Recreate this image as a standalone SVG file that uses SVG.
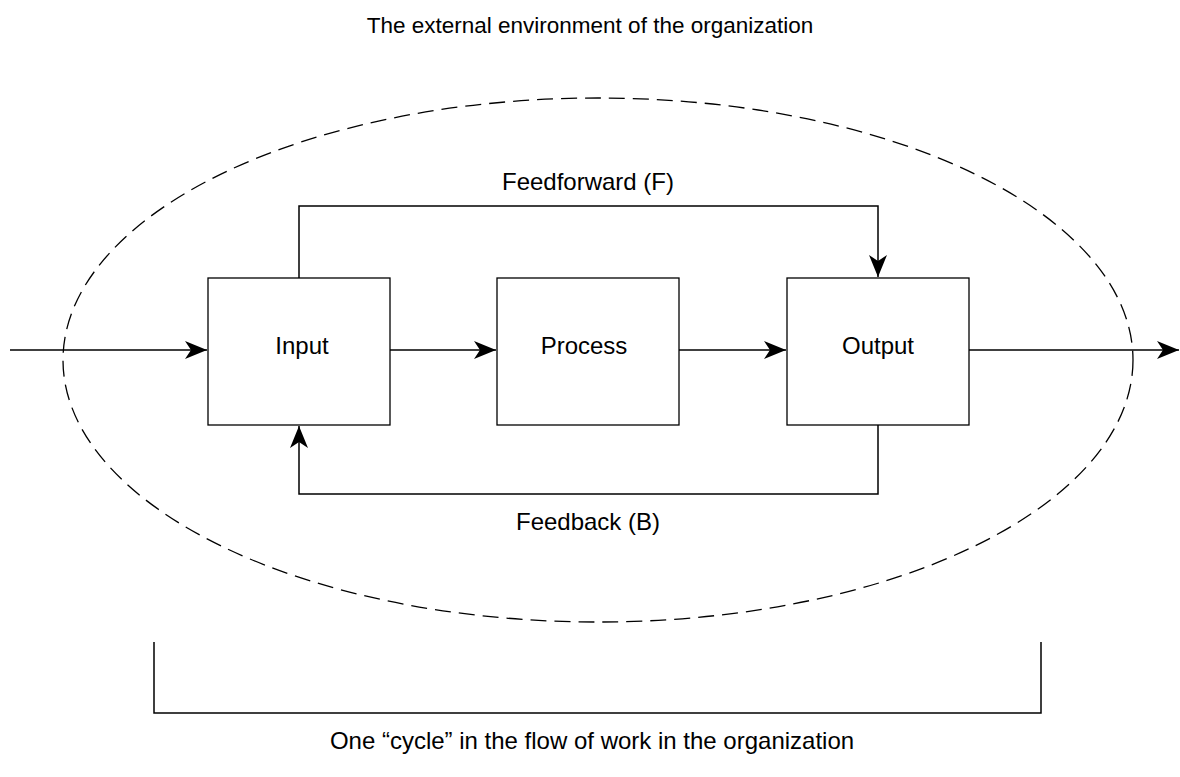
<svg xmlns="http://www.w3.org/2000/svg" width="1180" height="777" viewBox="0 0 1180 777">
<style>
text{font-family:"Liberation Sans",Arial,sans-serif;font-size:24px;fill:#000;text-anchor:middle}
.title{font-size:22.5px}
.box{fill:#fff;stroke:#000;stroke-width:1.3}
.ln{fill:none;stroke:#000;stroke-width:1.5}
</style>
<defs>
<marker id="ah" markerWidth="24" markerHeight="20" refX="22" refY="10" orient="auto" markerUnits="userSpaceOnUse">
<path d="M0,1 L22,10 L0,19 L6,10 Z" fill="#000"/>
</marker>
</defs>
<rect width="1180" height="777" fill="#fff"/>
<text class="title" x="590" y="33">The external environment of the organization</text>
<ellipse cx="598" cy="360" rx="535" ry="262" fill="none" stroke="#000" stroke-width="1.3" stroke-dasharray="16,8"/>
<g id="connectors">
<path class="ln" d="M10,350 H207" marker-end="url(#ah)"/>
<path class="ln" d="M390,350 H496" marker-end="url(#ah)"/>
<path class="ln" d="M679,350 H786" marker-end="url(#ah)"/>
<path class="ln" d="M969,350 H1179" marker-end="url(#ah)"/>
<path class="ln" d="M299,278 V206 H878 V277" marker-end="url(#ah)"/>
<path class="ln" d="M878,425 V494 H299 V426" marker-end="url(#ah)"/>
</g>
<g id="input"><rect class="box" x="208" y="278" width="182" height="147"/><text x="302" y="354">Input</text></g>
<g id="process"><rect class="box" x="497" y="278" width="182" height="147"/><text x="584" y="354">Process</text></g>
<g id="output"><rect class="box" x="787" y="278" width="182" height="147"/><text x="878" y="354">Output</text></g>
<text x="588" y="190">Feedforward (F)</text>
<text x="588" y="530">Feedback (B)</text>
<g id="bracket"><path class="ln" d="M154,642 V713 H1041 V642"/></g>
<text x="592" y="749">One “cycle” in the flow of work in the organization</text>
</svg>
